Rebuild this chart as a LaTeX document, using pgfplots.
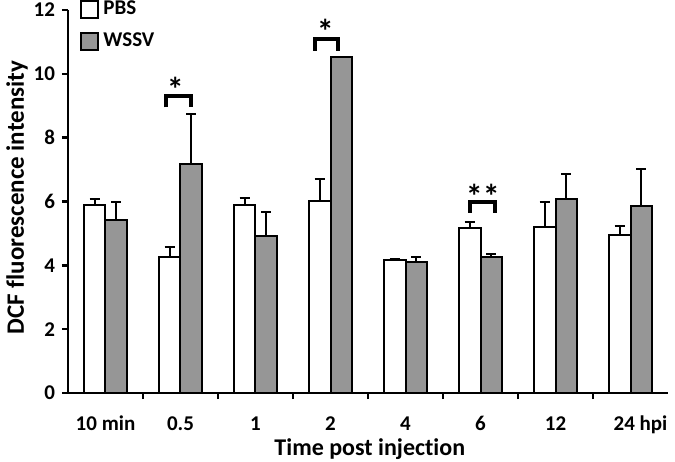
\documentclass[border=0pt]{standalone}
\usepackage{fontspec}
\setmainfont{Carlito}[Ligatures=NoCommon]
\usepackage{pgfplots}
\usepackage{pgfplotstable}
\pgfplotsset{compat=1.18}
\definecolor{wssvgray}{RGB}{150,150,150}
\pgfplotsset{sqlegend/.style={legend image code/.code={\draw[##1,/tikz/.cd] (0pt,-4.25pt) rectangle (8.5pt,4.25pt);}}}

% x y err (upper error only)
\pgfplotstableread{
x y e
0 5.88 0.20
1 4.27 0.30
2 5.88 0.24
3 6.02 0.69
4 4.16 0.04
5 5.16 0.20
6 5.21 0.77
7 4.95 0.28
}\pbs
\pgfplotstableread{
x y e
0 5.42 0.55
1 7.18 1.56
2 4.92 0.76
3 10.54 0.00
4 4.10 0.16
5 4.25 0.12
6 6.09 0.76
7 5.86 1.17
}\wssv

\begin{document}
\begin{tikzpicture}
\begin{axis}[
  scale only axis, width=300pt, height=191.5pt,
  xmin=-0.5, xmax=7.5, ymin=0, ymax=12,
  axis lines=left, axis line style={-, line width=1.25pt},
  clip=false,
  tick align=outside,
  ytick={0,2,...,12},
  xtick={0,...,7},
  xticklabels={10 min,0.5,1,2,4,6,12,\hspace{10pt}24 hpi},
  minor xtick={0.5,1.5,...,6.5},
  major x tick style={draw=none},
  minor x tick style={black, line width=1.25pt},
  y tick style={black, line width=1.25pt},
  major tick length=3pt, minor tick length=3pt,
  /pgf/number format/assume math mode=true,
  tick label style={font=\bfseries\fontsize{10.5}{12}\selectfont},
  xticklabel style={anchor=base, yshift=-15.5pt},
  xlabel={Time post injection},
  ylabel={DCF fluorescence intensity},
  every axis x label/.style={at={(axis description cs:0.503,-0.163)}, anchor=base,
    font=\bfseries\fontsize{12}{14}\selectfont},
  every axis y label/.style={at={(axis description cs:-0.085,0.51)}, rotate=90, anchor=center,
    font=\bfseries\fontsize{12.5}{14}\selectfont},
  legend style={at={(axis description cs:0.02,1.035)}, anchor=north west,
    draw=none, fill=none, inner sep=0pt, row sep=3.5pt,
    font=\bfseries\fontsize{10.5}{12}\selectfont},
  legend cell align=left,
]
\addplot[ybar, bar width=0.287, bar shift=0pt, fill=white, draw=black, line width=1pt,
  sqlegend,
  error bars/.cd, y dir=plus, y explicit,
  error bar style={line width=1pt, black},
  error mark options={rotate=90, mark size=2.5pt, line width=1pt, black}]
  table[x expr=\thisrow{x}-0.1435, y=y, y error=e] {\pbs};
\addlegendentry{PBS}
\addplot[ybar, bar width=0.287, bar shift=0pt, fill=wssvgray, draw=black, line width=1pt,
  sqlegend,
  error bars/.cd, y dir=plus, y explicit,
  error bar style={line width=1pt, black},
  error mark options={rotate=90, mark size=2.5pt, line width=1pt, black}]
  table[x expr=\thisrow{x}+0.1435, y=y, y error=e] {\wssv};
\addlegendentry{WSSV}

% significance brackets
\draw[line width=2pt, black] (axis cs:0.81,8.95) -- (axis cs:0.81,9.30) -- (axis cs:1.14,9.30) -- (axis cs:1.14,8.95);
\draw[line width=2pt, black] (axis cs:2.79,10.73) -- (axis cs:2.79,11.08) -- (axis cs:3.10,11.08) -- (axis cs:3.10,10.73);
\draw[line width=2pt, black] (axis cs:4.86,5.64) -- (axis cs:4.86,5.99) -- (axis cs:5.19,5.99) -- (axis cs:5.19,5.64);
\node[anchor=north, inner sep=0pt, font=\bfseries\fontsize{17}{19}\selectfont] at (axis cs:0.93,9.92) {*};
\node[anchor=north, inner sep=0pt, font=\bfseries\fontsize{17}{19}\selectfont] at (axis cs:2.93,11.71) {*};
\node[anchor=north, inner sep=0pt, font=\bfseries\fontsize{17}{19}\selectfont] at (axis cs:5.03,6.54) {**};
\end{axis}
\pgfresetboundingbox
\path (-34pt,-34pt) rectangle (303.5pt,196.5pt);
\end{tikzpicture}
\end{document}
